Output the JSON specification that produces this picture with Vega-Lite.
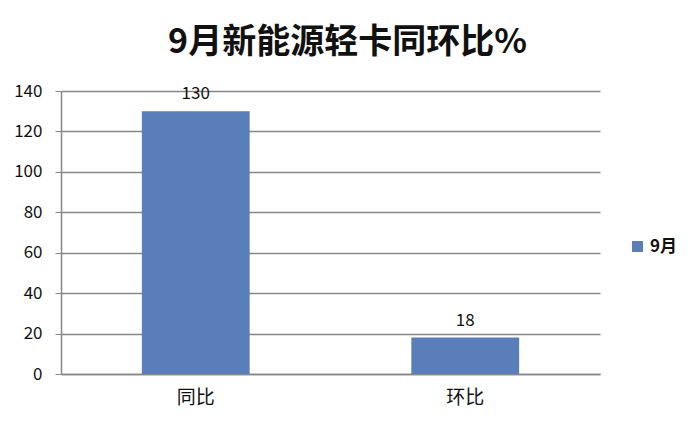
{
  "$schema": "https://vega.github.io/schema/vega-lite/v6.json",
  "background": "#ffffff",
  "autosize": {"type": "none"},
  "padding": {"left": 61, "top": 91, "right": 100, "bottom": 60},
  "width": 539,
  "height": 283,
  "title": {
    "text": "9月新能源轻卡同环比%",
    "fontSize": 34,
    "fontWeight": "bold",
    "font": "Noto Sans CJK SC",
    "color": "#111111",
    "anchor": "middle",
    "dx": 17,
    "offset": 22
  },
  "data": {
    "values": [
      {"type": "同比", "value": 130, "series": "9月"},
      {"type": "环比", "value": 18, "series": "9月"}
    ]
  },
  "encoding": {
    "x": {
      "field": "type",
      "type": "nominal",
      "sort": null,
      "scale": {"paddingInner": 0.6, "paddingOuter": 0.3},
      "axis": {
        "title": null,
        "labelAngle": 0,
        "labelFontSize": 19,
        "labelPadding": 14,
        "ticks": false,
        "domainColor": "#878787",
        "domainWidth": 1.5,
        "labelColor": "#111111",
        "labelFont": "Noto Sans CJK SC"
      }
    },
    "y": {
      "field": "value",
      "type": "quantitative",
      "scale": {"domain": [0, 140]},
      "axis": {
        "title": null,
        "values": [0, 20, 40, 60, 80, 100, 120, 140],
        "labelFontSize": 17,
        "labelPadding": 13,
        "tickSize": 6,
        "tickColor": "#878787",
        "domainColor": "#878787",
        "domainWidth": 1.5,
        "gridColor": "#878787",
        "gridWidth": 1.5,
        "labelColor": "#111111",
        "labelFont": "Noto Sans CJK SC"
      }
    }
  },
  "layer": [
    {
      "mark": {"type": "bar"},
      "encoding": {
        "color": {
          "field": "series",
          "type": "nominal",
          "scale": {"range": ["#5A7EB9"]},
          "legend": {
            "title": null,
            "orient": "none",
            "legendX": 568,
            "legendY": 147,
            "symbolType": "square",
            "symbolSize": 120,
            "symbolStrokeWidth": 0,
            "labelFontSize": 17,
            "labelFontWeight": "bold",
            "labelColor": "#111111",
            "labelFont": "Noto Sans CJK SC"
          }
        }
      }
    },
    {
      "mark": {
        "type": "text",
        "baseline": "bottom",
        "dy": -8,
        "fontSize": 17,
        "font": "Noto Sans CJK SC",
        "color": "#111111"
      },
      "encoding": {
        "text": {"field": "value", "type": "quantitative"}
      }
    }
  ],
  "config": {
    "view": {"stroke": null}
  }
}
